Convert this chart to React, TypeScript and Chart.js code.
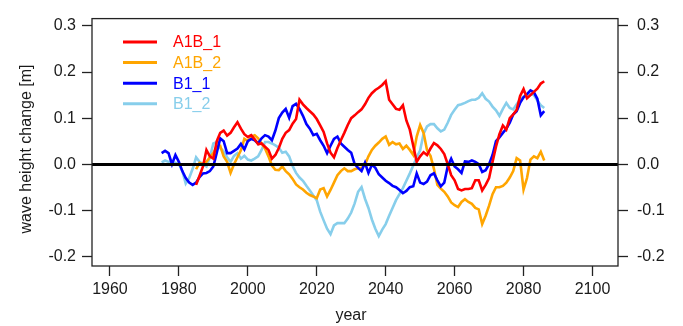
import React, { useEffect, useRef } from "react";
import { Chart, registerables } from "chart.js";

Chart.register(...registerables);

// ---- data ----
const SERIES_NAMES = ["A1B_1", "A1B_2", "B1_1", "B1_2"];
const SERIES_COLORS = ["#ff0000", "#ffa500", "#0000ff", "#87ceeb"];

const A1B_START = 1985;
const B1_START = 1975;

// A1B_1, yearly, 1985-2086
const A1B_1 = [
  -0.045, -0.025, -0.005, 0.031, 0.017,
  0.012, 0.05, 0.068, 0.073, 0.062, 0.068, 0.08, 0.091, 0.077, 0.065,
  0.059, 0.063, 0.054, 0.043, 0.045, 0.038, 0.031, 0.012, 0.02, 0.035,
  0.055, 0.068, 0.074, 0.088, 0.098, 0.14, 0.13, 0.122, 0.115, 0.108,
  0.098, 0.084, 0.07, 0.045, 0.025, 0.015, 0.035, 0.052, 0.068, 0.085,
  0.1, 0.106, 0.113, 0.119, 0.13, 0.144, 0.154, 0.161, 0.166, 0.172,
  0.18, 0.14, 0.13, 0.12, 0.118, 0.128, 0.095, 0.075, 0.04, 0.005,
  0.017, 0.026, 0.02, 0.034, 0.046, 0.041, 0.033, 0.022, 0.0, -0.024,
  -0.035, -0.054, -0.057, -0.054, -0.054, -0.052, -0.035, -0.035, -0.057, -0.045,
  -0.03, 0.005, 0.038, 0.065, 0.084, 0.075, 0.1, 0.108, 0.118, 0.148,
  0.163, 0.143, 0.15, 0.157, 0.164, 0.175, 0.18,
];

// A1B_2, yearly, 1985-2086
const A1B_2 = [
  -0.011, 0.003, 0.0, 0.005, 0.015,
  0.024, 0.038, 0.04, 0.017, 0.005, -0.019, 0.0, 0.015, 0.03, 0.055,
  0.05, 0.06, 0.063, 0.056, 0.045, 0.034, 0.017, -0.003, -0.012, -0.013,
  -0.005, -0.015, -0.022, -0.032, -0.044, -0.05, -0.055, -0.062, -0.067, -0.07,
  -0.074, -0.055, -0.052, -0.07, -0.056, -0.04, -0.024, -0.015, -0.009, -0.015,
  -0.015, -0.011, -0.009, -0.008, -0.001, 0.017, 0.031, 0.04, 0.047, 0.055,
  0.06, 0.042, 0.048, 0.043, 0.045, 0.033, 0.04, 0.031, 0.02, 0.06,
  0.085, 0.068, 0.03, 0.018, -0.01, -0.045, -0.053, -0.06, -0.07, -0.083,
  -0.089, -0.093, -0.082, -0.076, -0.082, -0.086, -0.095, -0.098, -0.13, -0.112,
  -0.09, -0.065, -0.05, -0.05, -0.047, -0.04, -0.029, -0.015, 0.013, 0.008,
  -0.055, -0.03, 0.01, 0.017, 0.013, 0.027, 0.008,
];

// B1_1, yearly, 1975-2086
const B1_1 = [
  0.024, 0.029, 0.024, 0.0, 0.02,
  0.005, -0.015, -0.03, -0.04, -0.045, -0.04, -0.028, -0.02, -0.019, -0.015,
  -0.005, 0.025, 0.056, 0.05, 0.024, 0.024, 0.029, 0.034, 0.044, 0.032,
  0.05, 0.055, 0.052, 0.045, 0.056, 0.063, 0.06, 0.052, 0.073, 0.1,
  0.112, 0.12, 0.101, 0.126, 0.131, 0.12, 0.105, 0.087, 0.077, 0.063,
  0.066, 0.052, 0.04, 0.024, 0.04, 0.055, 0.06, 0.045, 0.038, 0.031,
  0.025, 0.0, -0.008, -0.015, 0.003, -0.019, -0.001, -0.008, -0.022, -0.029,
  -0.036, -0.041, -0.047, -0.05, -0.056, -0.063, -0.058, -0.05, -0.048, -0.02,
  -0.04, -0.043, -0.038, -0.024, -0.02, -0.035, -0.048, -0.04, -0.005, 0.012,
  -0.005, -0.011, -0.019, 0.006, 0.005, 0.008, 0.005, 0.0, -0.017, -0.013,
  0.0, 0.02, 0.05, 0.058, 0.068, 0.077, 0.09, 0.108, 0.115, 0.133,
  0.145, 0.152, 0.16, 0.156, 0.142, 0.106, 0.115,
];

// B1_2, yearly, 1975-2086
const B1_2 = [
  0.004, 0.008, 0.005, 0.003, 0.003,
  0.0, -0.015, -0.042, -0.03, -0.01, 0.015, 0.005, 0.0, -0.005, 0.015,
  0.045, 0.048, 0.035, 0.028, 0.015, 0.005, 0.018, 0.024, 0.012, 0.018,
  0.01, 0.008, 0.012, 0.017, 0.031, 0.048, 0.048, 0.045, 0.041, 0.036,
  0.025, 0.027, 0.017, -0.004, -0.019, -0.029, -0.036, -0.047, -0.057, -0.068,
  -0.078, -0.103, -0.122, -0.14, -0.152, -0.133, -0.128, -0.128, -0.128, -0.118,
  -0.105, -0.085, -0.06, -0.05, -0.075, -0.095, -0.12, -0.14, -0.156, -0.142,
  -0.13, -0.112, -0.095, -0.078, -0.065, -0.052, -0.036, -0.02, -0.003, 0.015,
  0.03, 0.066, 0.082, 0.087, 0.087, 0.078, 0.071, 0.075, 0.09, 0.107,
  0.118, 0.128, 0.13, 0.133, 0.137, 0.14, 0.14, 0.144, 0.154, 0.142,
  0.136, 0.125, 0.117, 0.105, 0.12, 0.133, 0.122, 0.119, 0.13, 0.14,
  0.147, 0.151, 0.152, 0.15, 0.138, 0.128, 0.122,
];

const X_TICKS = [1960, 1980, 2000, 2020, 2040, 2060, 2080, 2100];
const Y_TICKS = [-0.2, -0.1, 0.0, 0.1, 0.2, 0.3];
const X_TITLE = "year";
const Y_TITLE = "wave height change [m]";

// ---- layout / style ----
const W = 683;
const H = 326;
const X_MIN = 1954.8;
const X_MAX = 2107.4;
const Y_MIN = -0.221;
const Y_MAX = 0.316;
const FONT_FAMILY = '"Liberation Sans", Arial, Helvetica, sans-serif';
const FONT = { family: FONT_FAMILY, size: 16 };
const TEXT_COLOR = "#1a1a1a";

function toPoints(values: number[], start: number) {
  return values.map((v, i) => ({ x: start + i, y: v }));
}

const decorPlugin = {
  id: "decor",
  afterDraw(chart: any) {
    const { ctx, chartArea } = chart;
    ctx.save();
    // frame
    ctx.strokeStyle = "#222";
    ctx.lineWidth = 1.3;
    ctx.strokeRect(
      chartArea.left,
      chartArea.top,
      chartArea.right - chartArea.left,
      chartArea.bottom - chartArea.top
    );
    // axis titles
    ctx.fillStyle = TEXT_COLOR;
    ctx.font = `16px ${FONT_FAMILY}`;
    ctx.textAlign = "center";
    ctx.textBaseline = "middle";
    ctx.fillText(X_TITLE, 351, 316);
    ctx.save();
    ctx.translate(27, 149);
    ctx.rotate(-Math.PI / 2);
    ctx.fillText(Y_TITLE, 0, 0);
    ctx.restore();
    // legend
    const order = [0, 1, 2, 3];
    order.forEach((k, row) => {
      const y = 42 + row * 20.6;
      ctx.strokeStyle = SERIES_COLORS[k];
      ctx.lineWidth = 3;
      ctx.beginPath();
      ctx.moveTo(123, y);
      ctx.lineTo(157, y);
      ctx.stroke();
      ctx.fillStyle = SERIES_COLORS[k];
      ctx.textAlign = "left";
      ctx.fillText(SERIES_NAMES[k], 173, y + 1);
    });
    ctx.restore();
  },
};

export default function App() {
  const canvasRef = useRef<HTMLCanvasElement | null>(null);

  useEffect(() => {
    const canvas = canvasRef.current;
    if (!canvas) return;
    const seriesData = [
      toPoints(A1B_1, A1B_START),
      toPoints(A1B_2, A1B_START),
      toPoints(B1_1, B1_START),
      toPoints(B1_2, B1_START),
    ];
    const drawOrder = [0, 2, 1, 3];
    const yTicksCfg = (pad: number) => ({
      padding: pad,
      color: TEXT_COLOR,
      font: FONT,
      autoSkip: false,
      callback: (v: any) => Number(v).toFixed(1),
    });
    const chart = new Chart(canvas, {
      type: "line",
      data: {
        datasets: SERIES_NAMES.map((name, i) => ({
          label: name,
          data: seriesData[i],
          borderColor: SERIES_COLORS[i],
          backgroundColor: SERIES_COLORS[i],
          borderWidth: 2.6,
          pointRadius: 0,
          tension: 0,
          fill: false,
          order: drawOrder[i],
        })),
      },
      options: {
        responsive: false,
        animation: false,
        events: [],
        layout: { padding: { top: 12, left: 0, right: 0, bottom: 0 } },
        plugins: { legend: { display: false }, tooltip: { enabled: false } },
        scales: {
          x: {
            type: "linear",
            position: "bottom",
            min: X_MIN,
            max: X_MAX,
            afterBuildTicks: (s: any) => {
              s.ticks = X_TICKS.map((v) => ({ value: v }));
            },
            afterFit: (s: any) => {
              s.height = 60;
            },
            grid: {
              drawOnChartArea: false,
              drawTicks: true,
              tickLength: 10,
              color: "#222",
              tickColor: "#222",
              tickWidth: 1.3,
            },
            border: { display: false },
            ticks: {
              padding: 4,
              color: TEXT_COLOR,
              font: FONT,
              autoSkip: false,
              maxRotation: 0,
              callback: (v: any) => String(v),
            },
          },
          y: {
            type: "linear",
            position: "left",
            min: Y_MIN,
            max: Y_MAX,
            afterBuildTicks: (s: any) => {
              s.ticks = Y_TICKS.map((v) => ({ value: v }));
            },
            afterFit: (s: any) => {
              s.width = 92;
            },
            grid: {
              z: 1,
              drawOnChartArea: true,
              tickLength: 10,
              color: (c: any) =>
                c.tick && c.tick.value === 0 ? "#000" : "rgba(0,0,0,0)",
              lineWidth: (c: any) => (c.tick && c.tick.value === 0 ? 3 : 1),
              tickColor: "#222",
              tickWidth: 1.3,
            },
            border: { display: false },
            ticks: yTicksCfg(6),
          },
          y2: {
            type: "linear",
            position: "right",
            min: Y_MIN,
            max: Y_MAX,
            afterBuildTicks: (s: any) => {
              s.ticks = Y_TICKS.map((v) => ({ value: v }));
            },
            afterFit: (s: any) => {
              s.width = 65;
            },
            grid: {
              drawOnChartArea: false,
              tickLength: 10,
              color: "#222",
              tickColor: "#222",
              tickWidth: 1.3,
            },
            border: { display: false },
            ticks: yTicksCfg(9),
          },
        },
      } as any,
      plugins: [decorPlugin],
    });
    return () => {
      chart.destroy();
    };
  }, []);

  return (
    <div
      style={{
        position: "fixed",
        left: 0,
        top: 0,
        width: W,
        height: H,
        background: "#fff",
      }}
    >
      <canvas ref={canvasRef} width={W} height={H} style={{ display: "block" }} />
    </div>
  );
}
